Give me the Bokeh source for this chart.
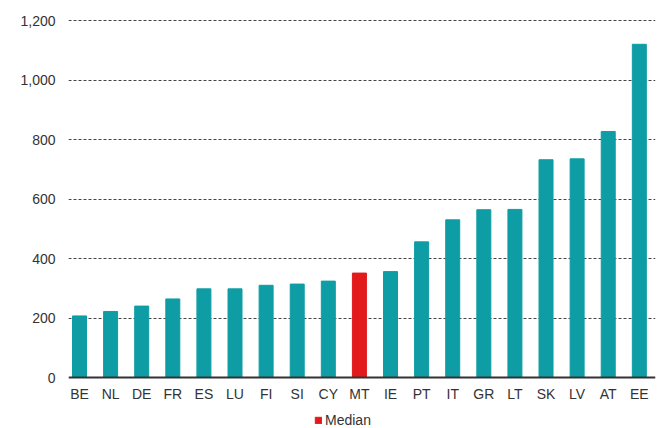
from bokeh.plotting import figure
from bokeh.models import (ColumnDataSource, Range1d, FixedTicker, NumeralTickFormatter,
                          Legend, LegendItem)
from bokeh.embed import file_html
from bokeh.resources import INLINE

countries = ["BE", "NL", "DE", "FR", "ES", "LU", "FI", "SI", "CY", "MT",
             "IE", "PT", "IT", "GR", "LT", "SK", "LV", "AT", "EE"]
values = [207, 222, 240, 264, 298, 298, 310, 314, 324, 351,
          356, 456, 530, 564, 565, 732, 735, 827, 1120]
median_country = "MT"
y_ticks = [0, 200, 400, 600, 800, 1000, 1200]

TEAL = "#0E9DA4"
RED = "#E31A1C"
TXT = "#333333"
FONT = "Liberation Sans"

colors = [RED if c == median_country else TEAL for c in countries]
src = ColumnDataSource(dict(x=list(range(len(countries))), top=values, color=colors))

p = figure(width=657, height=428, output_backend="svg", toolbar_location=None,
           x_range=Range1d(-0.354, 18.52), y_range=Range1d(-171.4, 1226.9),
           min_border_left=68, min_border_right=2, min_border_top=12, min_border_bottom=0)
p.outline_line_color = None
p.background_fill_color = "white"

r = p.vbar(x="x", top="top", width=0.45, color="color", source=src)

# x axis pinned at value 0 inside the frame
p.xaxis.fixed_location = 0
p.xaxis.ticker = FixedTicker(ticks=list(range(len(countries))))
p.xaxis.major_label_overrides = {i: c for i, c in enumerate(countries)}
p.xaxis.major_tick_line_color = None
p.xaxis.major_tick_out = 0
p.xaxis.major_tick_in = 0
p.xaxis.minor_tick_line_color = None
p.xaxis.axis_line_color = "#333333"
p.xaxis.axis_line_width = 2
p.xaxis.major_label_standoff = 8
p.xaxis.major_label_text_font = FONT
p.xaxis.major_label_text_font_size = "14px"
p.xaxis.major_label_text_color = TXT

p.yaxis.ticker = FixedTicker(ticks=y_ticks)
p.yaxis.formatter = NumeralTickFormatter(format="0,0")
p.yaxis.axis_line_color = None
p.yaxis.major_tick_line_color = None
p.yaxis.major_tick_out = 0
p.yaxis.major_tick_in = 0
p.yaxis.minor_tick_line_color = None
p.yaxis.major_label_standoff = 13
p.yaxis.major_label_text_font = FONT
p.yaxis.major_label_text_font_size = "14px"
p.yaxis.major_label_text_color = TXT

p.xgrid.grid_line_color = None
p.ygrid.ticker = FixedTicker(ticks=y_ticks[1:])
p.ygrid.grid_line_color = "#444444"
p.ygrid.grid_line_dash = "3 2"
p.ygrid.grid_line_width = 1

idx = countries.index(median_country)
legend = Legend(items=[LegendItem(label="Median", renderers=[r], index=idx)],
                location=(246, 0), orientation="horizontal",
                border_line_color=None, background_fill_alpha=0,
                label_text_font=FONT, label_text_font_size="14px", label_text_color=TXT,
                glyph_width=8, glyph_height=8, label_standoff=3,
                padding=0, margin=0, label_height=12)
p.add_layout(legend, "center")

open("out.html", "w").write(file_html(p, INLINE))
